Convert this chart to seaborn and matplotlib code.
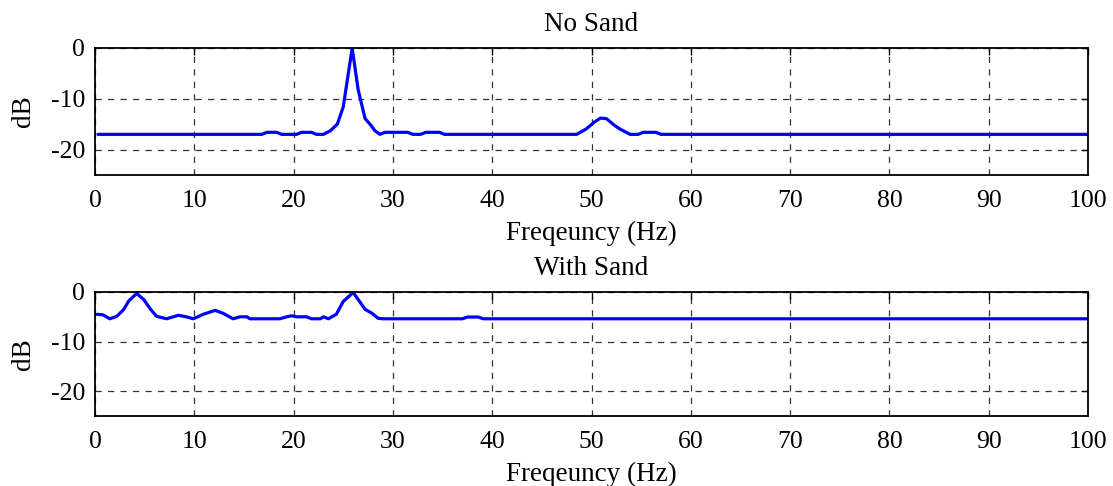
import pandas as pd
import matplotlib
matplotlib.use('Agg')
import matplotlib.pyplot as plt
import seaborn as sns

# --- Data ---
freq_no_sand = [0.3, 16.8, 17.3, 18.3, 18.8, 20.3, 20.8, 21.8, 22.3, 23.0, 23.7, 24.4, 25.0,
                25.9, 26.5, 27.2, 27.7, 28.2, 28.7, 29.2, 29.8, 31.5, 32.0, 32.8, 33.3,
                34.7, 35.2, 48.5, 49.5, 50.2, 50.9, 51.5, 52.3, 52.9, 53.9, 54.7, 55.2,
                56.5, 57.0, 100.0]
db_no_sand = [-17, -17, -16.6, -16.6, -17, -17, -16.6, -16.6, -17, -17, -16.3, -15, -11.6,
              0, -8.2, -13.9, -15, -16.3, -17, -16.6, -16.6, -16.6, -17, -17, -16.6,
              -16.6, -17, -17, -15.9, -14.7, -13.8, -13.9, -15.2, -16, -17, -17, -16.6,
              -16.6, -17, -17]

freq_with_sand = [0.2, 0.8, 1.5, 2.2, 2.9, 3.4, 4.2, 4.9, 5.6, 6.2, 7.2, 8.4, 9.2, 9.9,
                  10.9, 12.1, 12.9, 13.9, 14.6, 15.3, 15.6, 18.6, 19.3, 19.8, 20.3, 21.3,
                  21.8, 22.7, 23.0, 23.5, 24.3, 25.0, 26.0, 26.5, 27.2, 27.9, 28.5, 29.0,
                  37.0, 37.5, 38.6, 39.1, 100.0]
db_with_sand = [-4.5, -4.6, -5.4, -4.9, -3.5, -1.8, -0.3, -1.5, -3.5, -4.9, -5.4, -4.7, -5.0,
                -5.4, -4.5, -3.7, -4.3, -5.4, -5.0, -5.0, -5.4, -5.4, -5.0, -4.8, -5.0,
                -5.0, -5.4, -5.4, -5.0, -5.4, -4.5, -1.9, -0.1, -1.5, -3.5, -4.3, -5.3,
                -5.4, -5.4, -5.05, -5.05, -5.4, -5.4]

titles = ['No Sand', 'With Sand']
x_ticks = list(range(0, 101, 10))
y_ticks = [0, -10, -20]

sns.set_theme(style='white')
plt.rcParams['font.family'] = ['Liberation Serif', 'DejaVu Serif']
plt.rcParams['axes.unicode_minus'] = False
plt.rcParams['text.color'] = 'black'
plt.rcParams['axes.labelcolor'] = 'black'

fig = plt.figure(figsize=(11.13, 4.86), dpi=100)
ax_top = fig.add_axes([95 / 1113, 1 - 175 / 486, 993 / 1113, 127 / 486])
ax_bot = fig.add_axes([95 / 1113, 1 - 416 / 486, 993 / 1113, 124 / 486])

series = [(freq_no_sand, db_no_sand), (freq_with_sand, db_with_sand)]
for ax, (f, d), title in zip([ax_top, ax_bot], series, titles):
    df = pd.DataFrame({'freq': f, 'db': d})
    sns.lineplot(data=df, x='freq', y='db', ax=ax, color='#0000ff', linewidth=2.3)
    ax.set_xlim(0, 100)
    ax.set_ylim(-25, 0)
    ax.set_xticks(x_ticks)
    ax.set_yticks(y_ticks)
    ax.set_title(title, fontsize=19.5, pad=12, color='black')
    ax.set_xlabel('Freqeuncy (Hz)', fontsize=19.5, labelpad=6.4)
    ax.set_ylabel('dB', fontsize=19.5, labelpad=10.6)
    ax.tick_params(direction='in', labelsize=18.5, length=5, width=1, colors='black',
                   top=True, right=True)
    ax.tick_params(axis='x', pad=10.9)
    ax.tick_params(axis='y', pad=7)
    ax.grid(True, linestyle=(0, (5, 5)), color='#333333', linewidth=0.9)
    for s in ax.spines.values():
        s.set_color('black')
        s.set_linewidth(1.3)

fig.savefig('out.png', dpi=100)
plt.close(fig)
